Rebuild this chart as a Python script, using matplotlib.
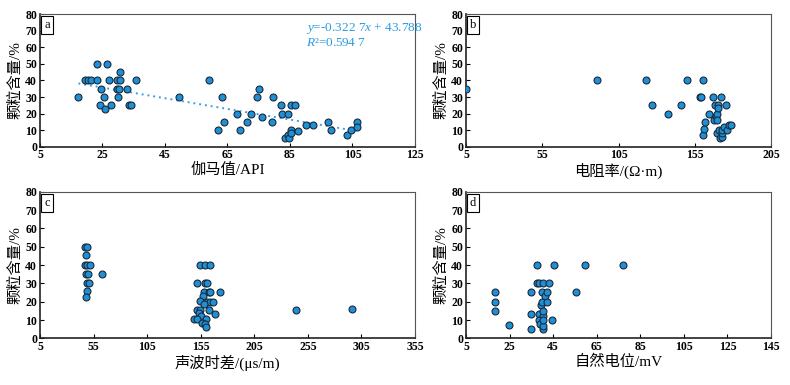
import matplotlib.pyplot as plt
import numpy as np

plt.rcParams['font.family'] = ['Liberation Serif', 'Noto Sans CJK SC']
plt.rcParams['axes.unicode_minus'] = False
plt.rcParams['mathtext.fontset'] = 'custom'
plt.rcParams['mathtext.rm'] = 'Liberation Serif'
plt.rcParams['mathtext.it'] = 'Liberation Serif:italic'

# a: 伽马值 vs 颗粒含量
gr_x = [17.3, 19.5, 20.3, 21.2, 23.2, 23.4, 24.5, 24.3, 25.4, 25.9, 26.4, 27.1, 27.8, 29.5, 29.7,
        30.0, 30.3, 30.5, 30.6, 32.9, 33.4, 34.1, 35.6, 49.4, 59.1, 63.1, 62.1, 63.9, 67.9, 68.9,
        71.2, 72.6, 74.5, 75.1, 75.9, 79.4, 79.5, 82.2, 82.4, 83.5, 84.4, 84.4, 84.7, 85.2, 85.4,
        85.4, 86.5, 87.6, 90.0, 92.3, 97.3, 98.2, 103.4, 104.6, 106.3, 106.5]
gr_y = [30, 40, 40, 40, 40, 50, 35, 25, 30, 23, 50, 40, 25, 35, 40,
        30, 35, 45, 40, 35, 25, 25, 40, 30, 40, 30, 10, 15, 20, 10,
        15, 20, 30, 35, 18, 15, 30, 25, 20, 5, 20, 7, 5, 25, 10,
        8.5, 25, 9.5, 13, 13, 15, 10, 7, 10, 15, 12]

# b: 电阻率
rt_x = [5.0, 90.6, 123.3, 126.8, 137.3, 145.8, 149.8, 158.1, 159.4, 160.7, 160.2, 160.9, 161.5,
        164.4, 167.2, 167.9, 168.5, 169.0, 169.4, 169.6, 169.4, 170.5, 170.5, 171.2, 172.0, 171.6,
        172.7, 173.1, 172.9, 174.4, 175.5, 175.9, 177.7, 178.8]
rt_y = [35, 40, 40, 25, 20, 25, 40, 30, 30, 40, 7, 10.5, 15,
        20, 30, 16, 25, 18.5, 20, 16, 8, 25, 23.5, 10, 30, 5.5,
        6, 8, 10, 12, 25, 10, 13, 13]

# c: 声波时差
ac_x = [47.4, 48.6, 47.7, 47.4, 48.6, 51.7, 47.7, 49.9, 49.2, 50.8, 48.9, 47.7, 62.9,
        151.4, 154.5, 158.9, 163.6, 158.9, 160.8, 158.3, 162.3, 163.9, 172.6, 156.7, 154.5,
        160.8, 163.9, 166.4, 158.3, 151.4, 153.9, 162.3, 153.3, 155.4, 148.3, 151.4, 160.1,
        168.5, 156.4, 158.6, 160.1, 243.6, 296.3]
ac_y = [50, 50, 45.4, 40, 40, 40, 35.3, 35, 30.2, 30, 25.7, 22.8, 35,
        30, 40, 40, 40, 30, 30, 25.5, 25.5, 25.5, 25.5, 23, 20.6,
        20, 20, 20, 18.5, 15.5, 15.5, 15.5, 14, 12.3, 10.5, 10.5, 10.5,
        13.5, 8.3, 7.8, 6.2, 15.6, 16]

# d: 自然电位
sp_x = [18.2, 18.5, 18.5, 24.8, 34.8, 34.8, 34.8, 37.7, 37.7, 38.6, 40.3, 42.9, 38.3, 38.6,
        39.1, 39.4, 39.8, 39.8, 40.2, 40.2, 40.3, 40.2, 40.5, 41.4, 42.2, 42.3, 44.5, 45.5,
        55.6, 59.8, 77.0]
sp_y = [15.1, 20, 25.3, 7.1, 5.3, 13.3, 25.3, 40, 30.2, 30, 30.4, 30.2, 13.5, 9.8,
        8, 18, 20, 25.3, 12, 15.1, 5.3, 7, 9.8, 23.3, 25.3, 20, 10, 40,
        25.3, 40, 40]

panels = [
    ('a', gr_x, gr_y, '伽马值/API', np.arange(5, 126, 20)),
    ('b', rt_x, rt_y, '电阻率/(Ω·m)', np.arange(5, 206, 50)),
    ('c', ac_x, ac_y, '声波时差/(μs/m)', np.arange(5, 356, 50)),
    ('d', sp_x, sp_y, '自然电位/mV', np.arange(5, 146, 20)),
]
rects = [
    [0.0506, 0.619, 0.4747, 0.344],
    [0.5899, 0.619, 0.3861, 0.344],
    [0.0506, 0.121, 0.4747, 0.381],
    [0.5899, 0.121, 0.3861, 0.381],
]

fig = plt.figure(figsize=(7.9, 3.85), dpi=100)
for (tag, xs, ys, xlab, xt), r in zip(panels, rects):
    ax = fig.add_axes(r)
    ax.scatter(xs, ys, s=25, c='#1f8fd6', edgecolors='#1a2a3a', linewidths=0.8, zorder=3)
    ax.set_xlim(xt[0], xt[-1])
    ax.set_ylim(0, 80)
    ax.set_xticks(xt)
    ax.set_yticks(range(0, 81, 10))
    ax.tick_params(direction='in', length=3, width=0.8, labelsize=8.5, pad=2,
                   top=False, right=False)
    for lab in ax.get_xticklabels() + ax.get_yticklabels():
        lab.set_fontweight('bold')
    for s in ['left', 'bottom']:
        ax.spines[s].set_color('#222222')
        ax.spines[s].set_linewidth(1.2)
    for s in ['top', 'right']:
        ax.spines[s].set_color('#555555')
        ax.spines[s].set_linewidth(0.8)
    ax.set_xlabel(xlab, fontsize=11, labelpad=1)
    ax.set_ylabel('颗粒含量/%', fontsize=11, labelpad=2)
    ax.text(0.012, 0.965, tag, transform=ax.transAxes, fontsize=9, ha='left', va='top',
            bbox=dict(boxstyle='square,pad=0.25', fc='white', ec='black', lw=0.8))
    if tag == 'a':
        xf = np.array([min(xs), max(xs)])
        ax.plot(xf, -0.3227 * xf + 43.788, ls=(0, (1, 2)), color='#3aa0e0', lw=1.4, zorder=2)
        ax.text(0.71, 0.89, '$y$=-0.322 7$x$ + 43.788', transform=ax.transAxes,
                fontsize=9.5, color='#2b9be0', ha='left', va='center')
        ax.text(0.71, 0.78, '$R$²=0.594 7', transform=ax.transAxes,
                fontsize=9.5, color='#2b9be0', ha='left', va='center')

fig.savefig('out.png', dpi=100)
